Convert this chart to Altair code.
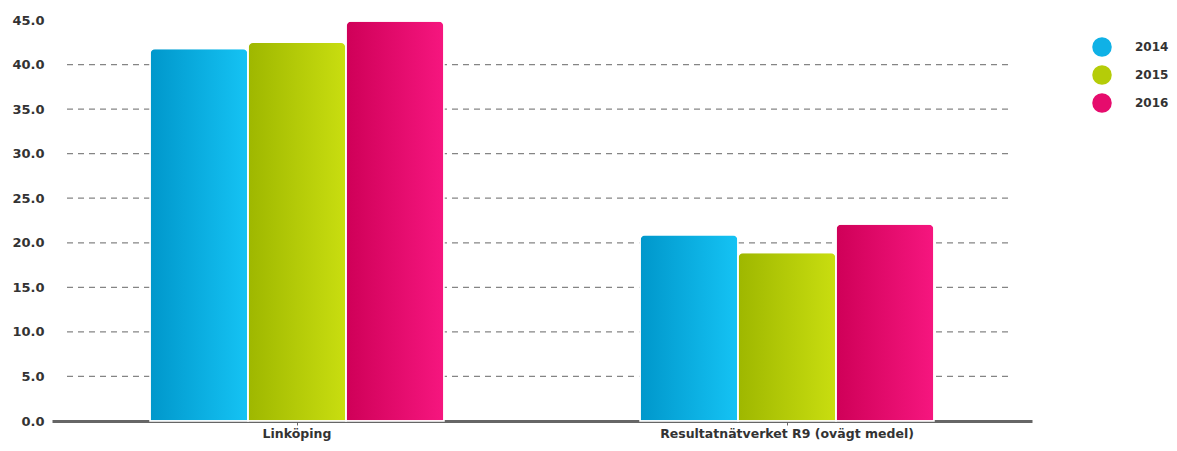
import altair as alt
import pandas as pd

categories = ["Linköping", "Resultatnätverket R9 (ovägt medel)"]
years = ["2014", "2015", "2016"]
values_2014 = [41.8, 20.9]
values_2015 = [42.5, 18.9]
values_2016 = [44.9, 22.1]
grid_ticks = [5, 10, 15, 20, 25, 30, 35, 40]
y_ticks = [0, 5, 10, 15, 20, 25, 30, 35, 40, 45]

rows = []
for yr, vals in zip(years, [values_2014, values_2015, values_2016]):
    for c, v in zip(categories, vals):
        rows.append({"category": c, "year": yr, "value": v})
df = pd.DataFrame(rows)
grid_df = pd.DataFrame({"g": grid_ticks})

gradients = {
    "2014": ("#0097cb", "#15c3f4"),
    "2015": ("#9eb700", "#c9de10"),
    "2016": ("#cf0058", "#f6167f"),
}
solid = ["#0fb1e6", "#b5cc08", "#e60c6d"]

FONT = "DejaVu Sans"

x_enc = alt.X(
    "category:N",
    sort=categories,
    scale=alt.Scale(paddingInner=0.4, paddingOuter=0.2),
    axis=alt.Axis(
        title=None, labelAngle=0, domainColor="#666666", domainWidth=3,
        tickColor="#666666", tickSize=4, tickWidth=1, labelPadding=2, labelLimit=0,
        labelFont=FONT, labelFontSize=12.5, labelFontWeight="bold", labelColor="#333333",
    ),
)
y_scale = alt.Scale(domain=[0, 45], nice=False)
y_enc = alt.Y(
    "value:Q",
    scale=y_scale,
    axis=alt.Axis(
        title=None, values=y_ticks, format=".1f", grid=False, domain=False, ticks=False,
        labelPadding=8, labelFont=FONT, labelFontSize=13, labelFontWeight="bold",
        labelColor="#333333",
    ),
)

grid = alt.Chart(grid_df).mark_rule(
    color="#858585", strokeDash=[6, 5], strokeWidth=1.3
).encode(
    y=alt.Y("g:Q", scale=y_scale),
    x=alt.value(15),
    x2=alt.value(961),
)

layers = [grid]
for yr in years:
    c1, c2 = gradients[yr]
    bar = alt.Chart(df).transform_filter(
        alt.datum.year == yr
    ).mark_bar(
        fill=alt.Gradient(
            gradient="linear",
            stops=[alt.GradientStop(color=c1, offset=0), alt.GradientStop(color=c2, offset=1)],
            x1=0, x2=1, y1=0, y2=0,
        ),
        stroke="white", strokeWidth=1.5,
        cornerRadiusTopLeft=5, cornerRadiusTopRight=5,
    ).encode(
        x=x_enc,
        xOffset=alt.XOffset("year:N", scale=alt.Scale(domain=years, paddingInner=0, paddingOuter=0)),
        y=y_enc,
    )
    layers.append(bar)

legend_layer = alt.Chart(df).mark_circle(opacity=0).encode(
    x=x_enc,
    y=y_enc,
    color=alt.Color(
        "year:N",
        scale=alt.Scale(domain=years, range=solid),
        legend=alt.Legend(
            title=None, orient="none", legendX=1040, legendY=17,
            symbolType="circle", symbolSize=380, symbolOpacity=1, symbolStrokeWidth=0,
            rowPadding=8, labelOffset=23, labelFont=FONT, labelFontSize=12,
            labelFontWeight="bold", labelColor="#333333", labelLimit=0,
        ),
    ),
)
layers.append(legend_layer)

chart = alt.layer(*layers).properties(
    width=980, height=401,
    padding={"left": 44, "top": 12, "right": 137, "bottom": 22},
    autosize=alt.AutoSizeParams(type="none"),
).configure_view(stroke=None)

chart.save("out.html", embed_options={"renderer": "svg", "actions": False})
